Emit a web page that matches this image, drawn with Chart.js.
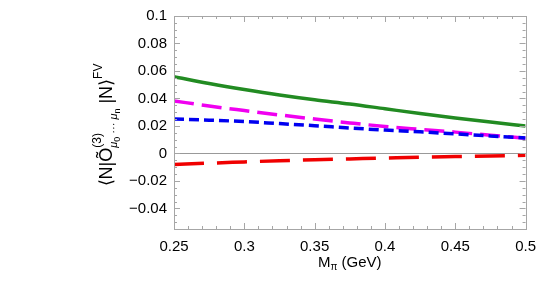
<!DOCTYPE html>
<html>
<head>
<meta charset="utf-8">
<script src="https://cdn.jsdelivr.net/npm/chart.js@4"></script>
<style>
  html, body { margin: 0; padding: 0; background: #fff; }
  #wrap { width: 545px; height: 291px; }
</style>
</head>
<body>
<div id="wrap"><canvas id="fvChart" width="545" height="291"></canvas></div>
<script>
// pion mass (GeV)
const mPi = [0.25, 0.275, 0.3, 0.325, 0.35, 0.375, 0.4, 0.425, 0.45, 0.475, 0.5];
const greenVals = [0.0558, 0.0509, 0.0465, 0.0425, 0.0390, 0.0360, 0.0325, 0.0290, 0.0258, 0.0228, 0.0200];
const magentaVals = [0.0382, 0.0345, 0.0312, 0.0280, 0.0250, 0.0222, 0.0196, 0.0175, 0.0155, 0.0132, 0.0110];
const blueVals = [0.0250, 0.0242, 0.0232, 0.0217, 0.0202, 0.0185, 0.0170, 0.0157, 0.0142, 0.0127, 0.0112];
const redVals = [-0.0081, -0.0071, -0.0062, -0.0053, -0.0046, -0.0040, -0.0034, -0.0028, -0.0023, -0.0018, -0.0014];

const xTicks = [0.25, 0.3, 0.35, 0.4, 0.45, 0.5];
const yTicks = [-0.04, -0.02, 0, 0.02, 0.04, 0.06, 0.08, 0.1];
const xMinorStep = 0.01;
const yMinorStep = 0.005;

const FONT = '"Liberation Sans", Arial, Helvetica, sans-serif';
const FRAME = '#a6a6a6';

const pts = vals => mPi.map((m, i) => ({ x: m, y: vals[i] }));

function fmt(v) {
    if (Math.abs(v) < 1e-9) return '0';
    const s = String(+v.toFixed(3));
    return v < 0 ? '\u2212' + s.slice(1) : s;
}

// frame, inward ticks, zero line and axis titles
const framePlugin = {
    id: 'frame',
    beforeDatasetsDraw(chart) {
        const { ctx, chartArea: a, scales: { y } } = chart;
        ctx.save();
        ctx.strokeStyle = '#999';
        ctx.lineWidth = 1;
        const y0 = Math.round(y.getPixelForValue(0)) + 0.5;
        ctx.beginPath();
        ctx.moveTo(a.left, y0);
        ctx.lineTo(a.right, y0);
        ctx.stroke();
        ctx.restore();
    },
    afterDraw(chart) {
        const { ctx, chartArea: a, scales: { x, y } } = chart;
        ctx.save();
        ctx.strokeStyle = FRAME;
        ctx.lineWidth = 1;
        ctx.strokeRect(Math.round(a.left) + 0.5, Math.round(a.top) + 0.5,
            Math.round(a.right - a.left), Math.round(a.bottom - a.top));

        ctx.beginPath();
        // x ticks
        const nx = Math.round((x.max - x.min) / xMinorStep);
        for (let i = 0; i <= nx; i++) {
            const v = x.min + i * xMinorStep;
            const major = xTicks.some(t => Math.abs(t - v) < 1e-6);
            const len = major ? 6 : 3;
            const px = Math.round(x.getPixelForValue(v)) + 0.5;
            ctx.moveTo(px, a.bottom); ctx.lineTo(px, a.bottom - len);
            ctx.moveTo(px, a.top); ctx.lineTo(px, a.top + len);
        }
        // y ticks
        const startY = Math.ceil(y.min / yMinorStep - 1e-6) * yMinorStep;
        for (let v = startY; v <= y.max + 1e-9; v += yMinorStep) {
            const major = yTicks.some(t => Math.abs(t - v) < 1e-6);
            const len = major ? 6 : 3;
            const py = Math.round(y.getPixelForValue(v)) + 0.5;
            ctx.moveTo(a.left, py); ctx.lineTo(a.left + len, py);
            ctx.moveTo(a.right, py); ctx.lineTo(a.right - len, py);
        }
        ctx.stroke();

        // x title: M_pi (GeV)
        ctx.fillStyle = '#000';
        ctx.textBaseline = 'alphabetic';
        const cx = (a.left + a.right) / 2;
        const by = 267;
        ctx.font = '15px ' + FONT;
        const wM = ctx.measureText('M').width;
        ctx.font = '10px ' + FONT;
        const wPi = ctx.measureText('\u03c0').width;
        ctx.font = '15px ' + FONT;
        const wRest = ctx.measureText(' (GeV)').width;
        let sx = cx - (wM + wPi + wRest) / 2;
        ctx.fillText('M', sx, by); sx += wM;
        ctx.font = '10px ' + FONT;
        ctx.fillText('\u03c0', sx, by + 3); sx += wPi;
        ctx.font = '15px ' + FONT;
        ctx.fillText(' (GeV)', sx, by);

        // y title: <N|O~(3)_{mu0...mun}|N>^FV
        ctx.translate(112, 125);
        ctx.rotate(-Math.PI / 2);
        const big = '18px ' + FONT;
        const sup = '12px ' + FONT;
        const sub = 'italic 11px ' + FONT;
        const subsub = '9px ' + FONT;
        const pieces = [
            { t: '\u27e8N|\u00d5', f: big, dy: 0 },
            { t: '(3)', f: sup, dy: -11, noAdv: true },
            { t: '\u03bc', f: sub, dy: 5 },
            { t: '0', f: subsub, dy: 8 },
            { t: ' \u00b7\u00b7\u00b7 ', f: sub, dy: 5 },
            { t: '\u03bc', f: sub, dy: 5 },
            { t: 'n', f: subsub, dy: 8 },
            { t: ' |N\u27e9', f: big, dy: 0 },
            { t: 'FV', f: sup, dy: -10 }
        ];
        let total = 0;
        pieces.forEach(p => { ctx.font = p.f; p.w = ctx.measureText(p.t).width; if (!p.noAdv) total += p.w; });
        let tx = -total / 2;
        pieces.forEach(p => {
            ctx.font = p.f;
            ctx.fillText(p.t, tx, p.dy);
            if (!p.noAdv) tx += p.w;
        });
        ctx.restore();
    }
};

const lineStyle = (color, dash, width) => ({
    borderColor: color,
    borderWidth: width,
    borderDash: dash,
    borderCapStyle: 'butt',
    pointRadius: 0,
    fill: false,
    tension: 0.4,
    cubicInterpolationMode: 'monotone'
});

new Chart(document.getElementById('fvChart'), {
    type: 'line',
    data: {
        datasets: [
            Object.assign({ label: 'green', data: pts(greenVals) }, lineStyle('#228b22', [], 3.5)),
            Object.assign({ label: 'blue', data: pts(blueVals) }, lineStyle('#0000f0', [10, 5], 3.5)),
            Object.assign({ label: 'magenta', data: pts(magentaVals) }, lineStyle('#f000f0', [20, 8], 3.5)),
            Object.assign({ label: 'red', data: pts(redVals) }, lineStyle('#f00000', [30, 13], 3.5))
        ]
    },
    options: {
        responsive: false,
        animation: false,
        events: [],
        layout: { padding: { left: 0, right: 11, top: 7, bottom: 0 } },
        plugins: { legend: { display: false }, tooltip: { enabled: false } },
        scales: {
            x: {
                type: 'linear',
                min: 0.25,
                max: 0.5,
                afterBuildTicks: s => { s.ticks = xTicks.map(v => ({ value: v })); },
                afterFit: s => { s.height = 62; },
                grid: { display: false, drawTicks: false },
                border: { display: false },
                ticks: {
                    padding: 9,
                    color: '#000',
                    font: { family: FONT, size: 15 },
                    maxRotation: 0,
                    callback: v => fmt(v)
                }
            },
            y: {
                type: 'linear',
                min: -0.055,
                max: 0.1,
                afterBuildTicks: s => { s.ticks = yTicks.map(v => ({ value: v })); },
                afterFit: s => { s.width = 174; },
                grid: { display: false, drawTicks: false },
                border: { display: false },
                ticks: {
                    padding: 7,
                    color: '#000',
                    font: { family: FONT, size: 15 },
                    callback: v => fmt(v)
                }
            }
        }
    },
    plugins: [framePlugin]
});
</script>
</body>
</html>
